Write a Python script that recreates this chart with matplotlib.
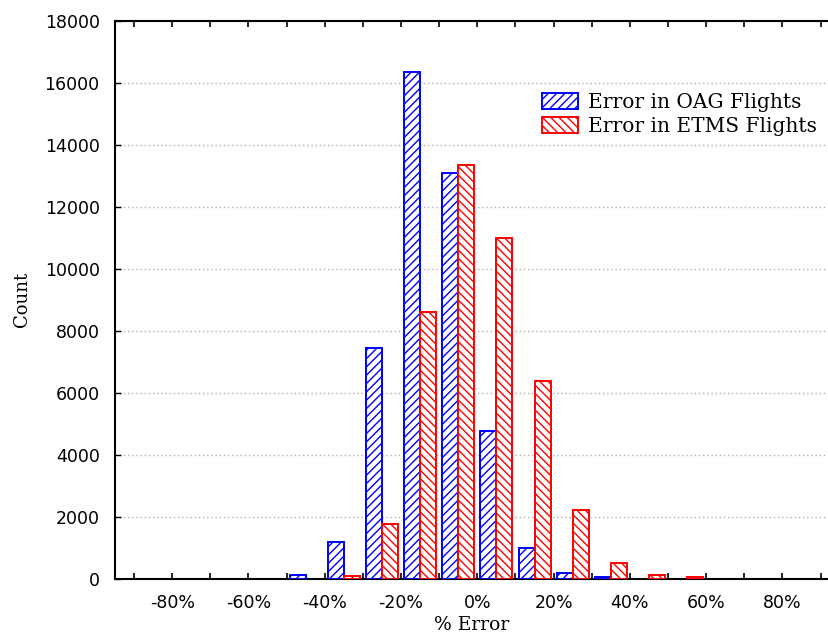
import numpy as np
import matplotlib
matplotlib.use("Agg")
import matplotlib.pyplot as plt
from matplotlib.ticker import MultipleLocator, FuncFormatter

plt.rcParams["hatch.linewidth"] = 1.0

# histogram data (bin centres in % error)
bin_centers = [-45, -35, -25, -15, -5, 5, 15, 25, 35, 45, 55]
oag_counts = [130, 1190, 7440, 16330, 13100, 4770, 1000, 180, 70, 0, 0]
etms_counts = [0, 110, 1770, 8620, 13340, 10980, 6390, 2220, 525, 130, 70]

blue = (0/255, 0/255, 255/255)
red = (255/255, 0/255, 0/255)

fig = plt.figure(figsize=(8.29, 6.37), dpi=100)
ax = fig.add_axes([0.1387, 0.0911, 0.8613, 0.8767])

x = np.array(bin_centers, dtype=float)
oag = np.array(oag_counts)
etms = np.array(etms_counts)
w = 4.2
# empty bins are not drawn at all
mo = oag > 0
me = etms > 0
ax.bar(x[mo] - w / 2, oag[mo], width=w, color="white", edgecolor=blue,
       hatch="////", linewidth=1.4, label="Error in OAG Flights", zorder=3)
ax.bar(x[me] + w / 2, etms[me], width=w, color="white", edgecolor=red,
       hatch="\\\\\\\\", linewidth=1.4, label="Error in ETMS Flights", zorder=3)

ax.set_xlim(-95, 92.2)
ax.set_ylim(0, 18000)

ax.xaxis.set_major_locator(MultipleLocator(20))
ax.xaxis.set_minor_locator(MultipleLocator(10))
ax.xaxis.set_major_formatter(FuncFormatter(lambda v, p: "%d%%" % v))
ax.yaxis.set_major_locator(MultipleLocator(2000))

ax.tick_params(axis="x", which="both", direction="in", length=4, width=1.2,
               top=True, pad=11, labelsize=12.5)
ax.tick_params(axis="y", which="major", direction="in", length=4, width=1.0,
               pad=11, labelsize=12.5)
ax.grid(axis="y", linestyle=(0, (1, 2)), color="#b0b0b0", linewidth=1.0, zorder=0)

for s in ["left", "bottom", "top"]:
    ax.spines[s].set_linewidth(1.5)
ax.spines["right"].set_visible(False)

ax.set_xlabel("% Error", family="DejaVu Serif", fontsize=13.5, labelpad=3)
ax.set_ylabel("Count", family="DejaVu Serif", fontsize=13, labelpad=10)

ax.legend(loc="upper left", bbox_to_anchor=(0.584, 0.888), frameon=False,
          prop={"family": "DejaVu Serif", "size": 14.5}, handlelength=1.8,
          handleheight=0.8, handletextpad=0.5, labelspacing=0.25, borderpad=0)

fig.savefig("out.png", dpi=100)
